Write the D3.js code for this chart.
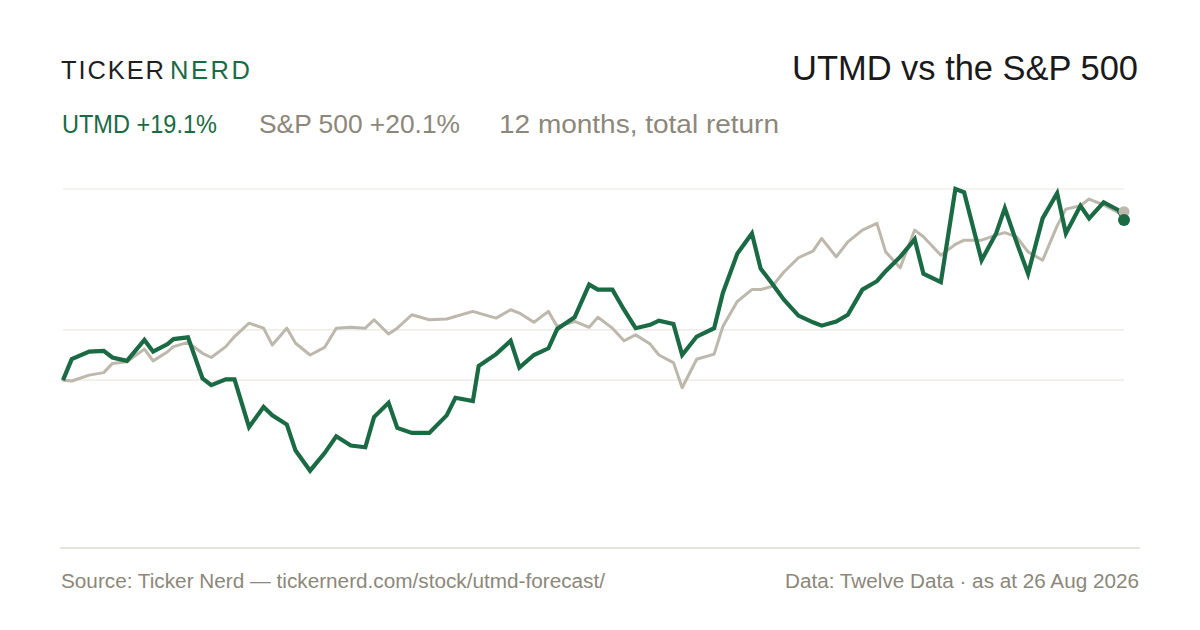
<!DOCTYPE html>
<html>
<head>
<meta charset="utf-8">
<script src="https://cdn.jsdelivr.net/npm/d3@7"></script>
<style>
  html, body { margin: 0; padding: 0; background: #ffffff; }
  svg text { font-family: "Liberation Sans", Arial, sans-serif; }
</style>
</head>
<body>
<svg id="chart" width="1200" height="630"></svg>
<script>
// sample dates (roughly every 3 trading days), 12 months
var dates = ["2025-08-26","2025-08-29","2025-09-04","2025-09-09","2025-09-12","2025-09-17","2025-09-23","2025-09-26",
  "2025-10-01","2025-10-03","2025-10-08","2025-10-13","2025-10-16","2025-10-21","2025-10-24","2025-10-29",
  "2025-11-03","2025-11-06","2025-11-11","2025-11-14","2025-11-19","2025-11-24","2025-11-28",
  "2025-12-03","2025-12-08","2025-12-11","2025-12-16","2025-12-19","2025-12-24","2025-12-30",
  "2026-01-05","2026-01-08","2026-01-14","2026-01-16","2026-01-22","2026-01-27","2026-01-30",
  "2026-02-04","2026-02-09","2026-02-12","2026-02-18","2026-02-23","2026-02-26",
  "2026-03-03","2026-03-07","2026-03-11","2026-03-16","2026-03-19","2026-03-24","2026-03-27",
  "2026-04-01","2026-04-07","2026-04-10","2026-04-15","2026-04-20","2026-04-23","2026-04-27",
  "2026-05-01","2026-05-06","2026-05-11","2026-05-14","2026-05-19","2026-05-23","2026-05-28",
  "2026-06-02","2026-06-05","2026-06-10","2026-06-15","2026-06-18","2026-06-24","2026-06-29",
  "2026-07-02","2026-07-08","2026-07-13","2026-07-16","2026-07-20","2026-07-24","2026-07-29",
  "2026-08-03","2026-08-06","2026-08-11","2026-08-14","2026-08-19","2026-08-24","2026-08-26"];

// cumulative total return, %
var utmd = [0.0,2.5,3.4,3.5,2.7,2.3,4.8,3.4,
  4.3,4.9,5.1,0.2,-0.6,0.1,0.1,-5.6,
  -3.2,-4.2,-5.3,-8.4,-10.8,-8.7,-6.7,
  -7.8,-8.0,-4.4,-2.7,-5.7,-6.3,-6.3,
  -4.2,-2.1,-2.5,1.7,3.1,4.7,1.5,
  3.0,3.8,6.1,7.5,11.4,10.8,
  10.8,8.4,6.2,6.6,7.1,6.7,3.0,
  5.2,6.2,10.4,15.1,17.5,13.3,11.5,
  9.6,7.7,6.9,6.5,7.0,7.8,10.8,
  11.8,13.0,14.7,16.8,12.7,11.7,22.8,
  22.4,14.3,17.5,20.5,16.5,12.7,19.3,
  22.3,17.5,20.8,19.3,21.2,20.3,19.1];

var spx = [0.0,-0.1,0.6,0.9,2.0,2.2,3.7,2.3,
  3.4,4.0,4.5,3.2,2.7,4.0,5.2,6.8,
  6.2,4.2,6.2,4.4,3.0,3.9,6.2,
  6.3,6.2,7.2,5.5,6.2,7.8,7.2,
  7.3,7.6,8.2,8.0,7.4,8.4,8.0,
  6.9,8.2,6.4,7.0,6.3,7.5,
  6.2,4.7,5.4,4.3,3.0,2.1,-0.9,
  2.5,3.1,6.4,9.4,10.8,10.8,11.2,
  12.9,14.6,15.4,16.9,14.7,16.5,17.9,
  18.7,15.3,13.4,17.9,17.1,14.9,16.2,
  16.7,16.7,17.3,17.6,17.1,15.3,14.3,
  18.4,20.4,20.8,21.6,20.9,20.0,20.1];

var headline = ["UTMD +19.1%", "S&P 500 +20.1%", "12 months, total return"];

var green = "#1a6a44", grey = "#bdb7ac", muted = "#8c877a";

var svg = d3.select("#chart");
var parse = d3.timeParse("%Y-%m-%d");
var pts = dates.map(function (d, i) { return { date: parse(d), u: utmd[i], s: spx[i] }; });

var x = d3.scaleTime().domain(d3.extent(pts, function (d) { return d.date; })).range([63, 1124]);
var lo = d3.min(pts, function (d) { return Math.min(d.u, d.s); });
var hi = d3.max(pts, function (d) { return Math.max(d.u, d.s); });
var y = d3.scaleLinear().domain([lo, hi]).range([470.7, 189]);

// header
svg.append("text").attr("x", 61).attr("y", 79).attr("font-size", 25.5).attr("fill", "#1f1f1f")
  .attr("textLength", 103).attr("lengthAdjust", "spacing").text("TICKER");
svg.append("text").attr("x", 170).attr("y", 79).attr("font-size", 25.5).attr("fill", green)
  .attr("textLength", 80).attr("lengthAdjust", "spacing").text("NERD");

svg.append("text").attr("x", 792).attr("y", 79.5).attr("font-size", 34.5).attr("fill", "#1a1a1a")
  .attr("textLength", 346).attr("lengthAdjust", "spacingAndGlyphs").text("UTMD vs the S&P 500");

var hx = [62, 259, 499], hw = [155, 201, 280], hc = [green, muted, muted];
svg.selectAll("text.head").data(headline).enter().append("text").attr("class", "head")
  .attr("x", function (d, i) { return hx[i]; }).attr("y", 133)
  .attr("font-size", 26.5).attr("fill", function (d, i) { return hc[i]; })
  .attr("textLength", function (d, i) { return hw[i]; }).attr("lengthAdjust", "spacingAndGlyphs")
  .text(function (d) { return d; });

// gridlines: top, middle and zero
var grid = [hi, (lo + hi) / 2, 0];
svg.selectAll("line.grid").data(grid).enter().append("line").attr("class", "grid")
  .attr("x1", 63).attr("x2", 1124)
  .attr("y1", function (d) { return y(d); }).attr("y2", function (d) { return y(d); })
  .attr("stroke", "#ebe7e0").attr("stroke-width", 1.2);

var line = function (key) {
  return d3.line().x(function (d) { return x(d.date); }).y(function (d) { return y(d[key]); });
};

svg.append("path").datum(pts).attr("d", line("s")).attr("fill", "none")
  .attr("stroke", grey).attr("stroke-width", 3).attr("stroke-linejoin", "round").attr("stroke-linecap", "round");
svg.append("path").datum(pts).attr("d", line("u")).attr("fill", "none")
  .attr("stroke", green).attr("stroke-width", 4.2).attr("stroke-linejoin", "miter").attr("stroke-linecap", "butt");

var last = pts[pts.length - 1];
svg.append("circle").attr("cx", x(last.date)).attr("cy", y(last.s)).attr("r", 5.5).attr("fill", grey);
svg.append("circle").attr("cx", x(last.date)).attr("cy", y(last.u)).attr("r", 6).attr("fill", green);

// footer
svg.append("line").attr("x1", 60).attr("x2", 1140).attr("y1", 548).attr("y2", 548)
  .attr("stroke", "#dfdbd1").attr("stroke-width", 1.5);
svg.append("text").attr("x", 61).attr("y", 587.5).attr("font-size", 20).attr("fill", muted)
  .attr("textLength", 544).attr("lengthAdjust", "spacingAndGlyphs")
  .text("Source: Ticker Nerd \u2014 tickernerd.com/stock/utmd-forecast/");
svg.append("text").attr("x", 785).attr("y", 587.5).attr("font-size", 20).attr("fill", muted)
  .attr("textLength", 354).attr("lengthAdjust", "spacingAndGlyphs")
  .text("Data: Twelve Data \u00b7 as at 26 Aug 2026");
</script>
</body>
</html>
